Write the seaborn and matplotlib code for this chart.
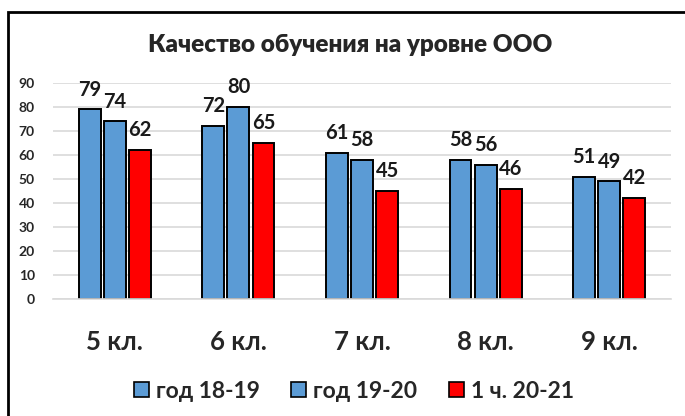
import numpy as np
import pandas as pd
import matplotlib
matplotlib.use("Agg")
import matplotlib.pyplot as plt
import seaborn as sns
from matplotlib.patches import Rectangle, Patch

# --- data ---
CLASSES = ["5 кл.", "6 кл.", "7 кл.", "8 кл.", "9 кл."]
SERIES = ["год 18-19", "год 19-20", "1 ч. 20-21"]
Y1819 = [79, 72, 61, 58, 51]
Y1920 = [74, 80, 58, 56, 49]
Y2021 = [62, 65, 45, 46, 42]
COLORS = ["#5b9bd5", "#5b9bd5", "#ff0000"]
TITLE = "Качество обучения на уровне ООО"

df = pd.DataFrame({
    "Класс": CLASSES * 3,
    "Серия": [s for s in SERIES for _ in CLASSES],
    "Значение": Y1819 + Y1920 + Y2021,
})

sns.set_theme(style="white")
plt.rcParams["font.family"] = ["Lato", "DejaVu Sans"]
plt.rcParams["font.weight"] = "bold"

W, H = 685, 416
fig = plt.figure(figsize=(W / 100, H / 100), dpi=100)
ax = fig.add_axes([53 / W, 1 - 299 / H, (671 - 53) / W, (299 - 83) / H])

sns.barplot(data=df, x="Класс", y="Значение", hue="Серия", order=CLASSES,
            hue_order=SERIES, palette=COLORS, width=0.61, gap=0.13,
            edgecolor="black", linewidth=1.4, saturation=1, ax=ax, legend=False)

for cont in ax.containers:
    ax.bar_label(cont, fmt="%d", padding=7, fontsize=14.5, fontweight="bold", color="#1a1a1a")

ax.set_ylim(0, 90)
ax.set_yticks(range(0, 91, 10))
ax.yaxis.grid(True, color="#d9d9d9", lw=1.2)
ax.set_axisbelow(True)
for s in ["top", "right", "left"]:
    ax.spines[s].set_visible(False)
ax.spines["bottom"].set_color("#d9d9d9")
ax.spines["bottom"].set_linewidth(1.2)
ax.set_xlabel("")
ax.set_ylabel("")
ax.tick_params(axis="y", length=0, pad=13, labelsize=10)
ax.tick_params(axis="x", length=0, pad=22, labelsize=18.5)
for t in ax.get_yticklabels() + ax.get_xticklabels():
    t.set_fontweight("bold")

fig.text(350 / W, 1 - 45 / H, TITLE, ha="center", va="center", fontsize=17.5, fontweight="heavy")

handles = [Patch(facecolor=c, edgecolor="black", lw=1.2) for c in COLORS]
fig.legend(handles, SERIES, loc="center", bbox_to_anchor=(354 / W, 1 - 391 / H),
           ncol=3, frameon=False, handlelength=0.65, handleheight=0.65,
           handletextpad=0.3, columnspacing=1.4, prop={"weight": "bold", "size": 16.5})

# outer frame (top and left edges visible)
fig.patches.append(Rectangle((8 / W, -0.1), 1.2, 1.1 - 12 / H, transform=fig.transFigure,
                             fill=False, edgecolor="black", lw=2, zorder=10))

fig.savefig("out.png", dpi=100)
